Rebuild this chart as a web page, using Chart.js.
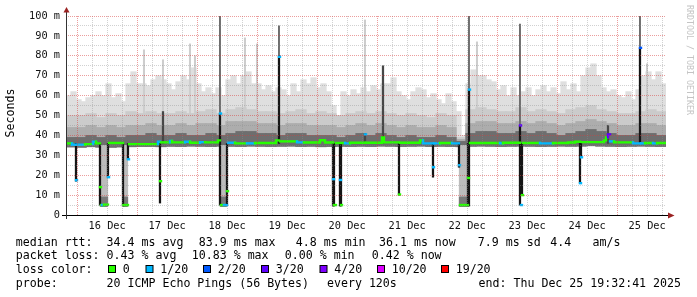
<!DOCTYPE html>
<html>
<head>
<meta charset="utf-8">
<title>SmokePing latency</title>
<script src="https://cdn.jsdelivr.net/npm/chart.js@4.4.1/dist/chart.umd.min.js"></script>
<style>
html,body{margin:0;padding:0;background:#fff;overflow:hidden;}
canvas{display:block;}
</style>
</head>
<body>
<canvas id="chart" width="697" height="297"></canvas>
<script>
// ================= DATA (times are hours since 16 Dec 00:00) =================
const startHour = -4.455;            // 15 Dec 19:32:41
const endHour = 235.545;             // 25 Dec 19:32:41
const dayLabels = ['16 Dec','17 Dec','18 Dec','19 Dec','20 Dec','21 Dec','22 Dec','23 Dec','24 Dec','25 Dec'];
const xGridHours = [0,6,12,18,24,30,36,42,48,54,60,66,72,78,84,90,96,102,108,114,120,126,132,138,144,150,156,162,168,174,180,186,192,198,204,210,216,222,228,234];
const yGridValues = [0,5,10,15,20,25,30,35,40,45,50,55,60,65,70,75,80,85,90,95,100];

// smoke envelope, 2-hour bins (ms)
const smokeMax = [60,62,58,57,59,60,62,60,66,59,
                  61,57,66,72,66,66,65,68,70,68,
                  66,63,67,70,68,74,66,62,64,61,
                  64,60,68,70,66,70,72,66,66,63,
                  65,62,64,63,60,66,62,68,66,69,
                  64,66,62,55,50,62,60,63,61,64,
                  62,65,63,66,66,69,62,60,58,62,
                  64,63,59,61,58,56,61,57,52,40,
                  66,73,70,70,68,67,63,65,60,64,
                  60,62,64,60,63,65,62,64,61,67,
                  63,66,62,70,74,76,70,64,62,63,
                  60,59,62,58,63,70,72,68,72,66];
// smoke density levels, 4-hour bins (ms)
const smokeHi  = [50,50,51,49,51,50,52,51,52,51,
                  51,52,51,52,53,51,53,54,53,52,
                  52,51,52,53,51,52,51,50,51,52,
                  51,52,51,50,51,50,49,51,50,39,
                  53,54,53,52,52,54,52,53,52,51,
                  53,54,55,53,52,51,51,52,53,52];
const smokeMid = [44,44,45,44,45,44,45,45,46,45,
                  45,46,45,46,46,45,47,47,47,46,
                  46,45,46,46,45,45,45,44,45,46,
                  45,46,45,44,45,44,44,45,44,38,
                  46,47,47,46,46,47,46,47,46,45,
                  46,47,48,47,46,45,45,46,46,45];
const smokeLow = [39,39,40,39,40,39,40,40,41,40,
                  40,41,40,40,41,40,41,42,42,41,
                  41,40,41,41,40,40,40,39,40,41,
                  40,41,40,39,40,39,39,40,39,37,
                  41,42,42,41,41,42,41,42,41,40,
                  41,42,43,42,41,40,40,41,41,40];
const smokeMin = [34.2,34.0,34.3,34.1,34.0,34.2,34.3,34.4,34.4,34.3,
                  34.5,34.4,34.6,34.5,34.4,34.6,34.5,34.4,34.6,34.5,
                  34.4,34.5,34.6,34.4,34.5,34.3,34.4,34.5,34.4,34.5,
                  34.4,34.6,34.5,34.4,34.5,34.6,34.4,34.5,34.4,34.3,
                  34.5,34.6,34.5,34.4,34.5,34.6,34.5,34.4,34.5,34.6,
                  34.5,34.6,34.8,34.6,34.5,34.4,34.5,34.6,34.5,34.4];

// median rtt: start hour of each step, value (ms), loss level index
const medT = [-4.46,-2.06,-0.46,-0.06,3.14,6.34,7.54,9.14,9.54,9.94,10.74,12.34,12.74,18.34,20.34,20.74,
              32.34,33.14,33.54,37.14,37.94,43.14,45.14,49.14,51.14,56.34,57.14,57.54,58.74,59.94,60.34,
              63.14,67.94,71.14,79.54,80.74,81.14,87.94,90.74,97.14,99.14,102.34,102.74,103.54,105.14,105.54,
              105.94,107.14,109.14,115.14,115.54,121.94,122.74,128.74,129.14,137.14,138.34,142.34,142.74,
              145.14,149.94,152.74,153.14,156.34,156.74,157.14,169.14,170.34,177.14,177.54,177.94,178.34,
              185.14,190.34,196.34,199.14,201.14,201.54,201.94,210.74,211.54,212.34,213.14,214.74,222.34,
              225.14,225.54,227.14,230.34,231.94];
const medV = [36.0,35.3,17.5,35.3,35.6,36.8,36.0,14.0,5.0,5.0,5.2,19.0,36.2,5.0,28.0,35.6,
              36.8,17.0,36.5,37.2,36.5,36.8,36.3,36.6,36.5,37.5,51.0,5.0,5.0,12.0,36.3,
              36.0,36.0,36.2,37.5,79.5,37.0,36.5,36.4,37.6,36.4,18.0,5.0,36.2,17.6,5.0,
              36.2,36.0,36.3,40.5,36.3,39.0,36.5,10.3,36.3,37.4,36.0,24.0,36.0,
              36.2,36.0,25.0,5.0,18.6,63.0,36.2,36.0,36.3,45.0,5.0,10.0,36.2,
              36.0,36.2,36.4,36.8,16.0,29.0,36.6,37.5,39.0,40.5,37.0,36.5,36.0,
              84.0,36.0,36.2,36.0,36.2];
const medLoss = [0,1,1,1,0,1,0,0,0,1,0,1,0,0,1,0,
                 1,0,0,1,0,1,0,1,0,0,1,0,1,0,1,
                 0,1,0,0,1,0,1,0,0,0,1,0,0,1,0,
                 0,1,0,1,0,0,0,0,0,0,1,1,1,
                 0,1,1,0,0,1,0,1,0,3,1,0,0,
                 1,0,0,0,1,1,0,0,0,3,1,0,1,
                 2,1,0,1,0];

// dense (black) smoke columns at outages / spikes
const blackT  = [-0.46,9.14,12.34,18.34,20.34,33.14,57.14,59.94,80.74,102.34,102.74,105.14,105.54,128.74,142.34,152.74,156.34,156.74,177.14,177.94,201.14,201.54,225.14];
const blackLo = [17,5,19,4.5,28,6,5,5,36,4.5,4.5,4.5,4.5,10,19,24,4.5,4.5,5,10,16,29,36];
const blackHi = [36,36,36,36,36,36,51,36,80,36,36,36,36,36,36,36,36,63,45,36,36,36,84];
// darker smoke columns above the median
const darkT  = [34.34,115.14,122.34,212.34];
const darkHi = [52,41,75,45];
// tall single-step ping spikes
const tallT  = [57.14,80.74,156.74,177.14,225.14];
const tallHi = [100,95,100,96,100];
// thin light spikes of the smoke top
const lightT  = [26.74,34.34,45.14,47.14,67.14,71.94,115.14,159.94,227.94];
const lightHi = [83,78,86,80,89,86,98,87,76];
// low-latency dips: steps where all pings were ~5 ms
const dipT = [9.54,9.94,10.34,10.74,11.14,11.54,11.94,
              18.74,19.14,19.54,19.94,
              57.54,57.94,58.34,58.74,59.14,59.54,
              153.14,153.54,153.94,154.34,154.74,155.14,155.54,155.94];
const dipFloor = 4.3, dipTop = 35, dipCore = 9;

// legend statistics
const rttStatValues = ['34.4','83.9','4.8','36.1','7.9'];
const rttStatNames  = ['avg','max','min','now','sd'];
const amPerS = '4.4';
const lossStatValues = ['0.43','10.83','0.00','0.42'];
const lossStatNames  = ['avg','max','min','now'];
const lossLevels = ['0','1/20','2/20','3/20','4/20','10/20','19/20'];
const lossColors = ['#26ff00','#00b8ff','#0059ff','#5e00ff','#7e00ff','#dd00ff','#ff0000'];
const probeText = ['20 ICMP Echo Pings (56 Bytes)', 'every 120s'];
const endText = 'end: Thu Dec 25 19:32:41 2025';

// ================= CHART =================
const MONO = '"DejaVu Sans Mono", "Liberation Mono", monospace';
Chart.defaults.font.family = MONO;

const fineT = smokeMax.map((v, i) => startHour + 2 * (i + 0.5));
const coarseT = smokeHi.map((v, i) => startHour + 4 * (i + 0.5));

function barSet(ts, lo, hi, color, thick, order) {
  return {
    type: 'bar',
    data: ts.map((t, i) => ({ x: t, y: [lo(i), hi(i)] })),
    backgroundColor: color,
    borderWidth: 0,
    barThickness: thick,
    grouped: false,
    order: order
  };
}

// median line: each step drawn as a horizontal run; large jumps are not stroked
const medPts = [], segCol = [];
for (let i = 0; i < medT.length; i++) {
  const tEnd = i + 1 < medT.length ? medT[i + 1] : endHour;
  medPts.push({ x: medT[i], y: medV[i] }, { x: tEnd, y: medV[i] });
  segCol.push(lossColors[medLoss[i]]);
  if (i + 1 < medT.length) {
    const jump = Math.abs(medV[i + 1] - medV[i]);
    segCol.push(jump < 3 ? lossColors[medLoss[i + 1]] : 'rgba(0,0,0,0)');
  }
}

const datasets = [
  barSet(fineT, i => smokeMin[Math.floor(i / 2)], i => smokeMax[i], '#dfdfdf', 5.6, 20),
  barSet(lightT, i => 40, i => lightHi[i], '#cdcdcd', 1.4, 19),
  barSet(coarseT, i => smokeMin[i], i => smokeHi[i], '#cbcbcb', 10.6, 18),
  barSet(coarseT, i => smokeMin[i], i => smokeMid[i], '#adadad', 10.6, 17),
  barSet(coarseT, i => smokeMin[i], i => smokeLow[i], '#6e6e6e', 10.6, 16),
  barSet(tallT, i => 36, i => tallHi[i], '#6e6e6e', 1.3, 15),
  barSet(dipT, i => dipFloor, i => dipTop, '#bcbcbc', 1.6, 14),
  barSet(dipT, i => dipFloor, i => dipCore, '#7a7a7a', 1.6, 13),
  barSet(darkT, i => 36, i => darkHi[i], '#474747', 1.6, 12),
  barSet(blackT, i => blackLo[i], i => blackHi[i], '#151515', 1.6, 11),
  {
    type: 'line',
    data: medPts,
    borderColor: lossColors[0],
    borderWidth: 2.4,
    borderCapStyle: 'square',
    pointRadius: 0,
    tension: 0,
    fill: false,
    order: 0,
    segment: { borderColor: ctx => segCol[ctx.p0DataIndex] }
  }
];

const majorGrid = 'rgba(215,60,60,0.5)';
const minorGrid = 'rgba(140,140,140,0.4)';

const decor = {
  id: 'decor',
  beforeDraw(chart) {
    const c = chart.ctx;
    c.save();
    c.fillStyle = '#ffffff';
    c.fillRect(0, 0, chart.width, chart.height);
    c.restore();
  },
  afterDraw(chart) {
    const c = chart.ctx;
    const a = chart.chartArea;
    c.save();
    // axes
    c.lineWidth = 1;
    c.strokeStyle = '#000';
    c.beginPath();
    c.moveTo(62, a.bottom + 0.5); c.lineTo(670, a.bottom + 0.5);
    c.stroke();
    c.strokeStyle = '#333';
    c.beginPath();
    c.moveTo(a.left + 0.5, 219); c.lineTo(a.left + 0.5, 11);
    c.stroke();
    // arrows
    c.fillStyle = '#9a2222';
    c.beginPath();
    c.moveTo(668, a.bottom - 2.5); c.lineTo(674.5, a.bottom + 0.5); c.lineTo(668, a.bottom + 3.5);
    c.closePath(); c.fill();
    c.beginPath();
    c.moveTo(a.left - 2.5, 12.5); c.lineTo(a.left + 0.5, 7); c.lineTo(a.left + 3.5, 12.5);
    c.closePath(); c.fill();

    // y-axis title
    c.fillStyle = '#000';
    c.font = '11.6px ' + MONO;
    c.save();
    c.translate(11, 113);
    c.rotate(-Math.PI / 2);
    c.textAlign = 'center';
    c.textBaseline = 'middle';
    c.fillText('Seconds', 0, 0);
    c.restore();

    // watermark
    c.save();
    c.fillStyle = '#c4c4c4';
    c.font = '8.3px ' + MONO;
    c.translate(689, 5);
    c.rotate(Math.PI / 2);
    c.textAlign = 'left';
    c.textBaseline = 'middle';
    c.fillText('RRDTOOL / TOBI OETIKER', 0, 0);
    c.restore();

    // legend
    c.font = '11.6px ' + MONO;
    c.textBaseline = 'alphabetic';
    c.textAlign = 'left';
    c.fillStyle = '#000';
    const rows = [245.5, 259.2, 272.9, 286.6];
    const x0 = 15.8;
    c.fillText('median rtt:', x0, rows[0]);
    const rttX = [106.6, 198.8, 295.8, 379, 477.8];
    rttStatValues.forEach((v, i) => c.fillText(v + ' ms ' + rttStatNames[i], rttX[i], rows[0]));
    c.fillText(amPerS, 550.3, rows[0]);
    c.fillText('am/s', 592.5, rows[0]);

    c.fillText('packet loss:', x0, rows[1]);
    const lossX = [106.6, 191.8, 284.8, 371.8];
    lossStatValues.forEach((v, i) => c.fillText(v + ' % ' + lossStatNames[i], lossX[i], rows[1]));

    c.fillText('loss color:', x0, rows[2]);
    const boxX = [108.5, 146, 203.5, 261.5, 320, 377.5, 441.5];
    lossLevels.forEach((lab, i) => {
      c.fillStyle = lossColors[i];
      c.fillRect(boxX[i], 265.5, 7, 7);
      c.strokeStyle = '#000';
      c.lineWidth = 1;
      c.strokeRect(boxX[i], 265.5, 7, 7);
      c.fillStyle = '#000';
      c.fillText(lab, boxX[i] + 14.2, rows[2]);
    });

    c.fillText('probe:', x0, rows[3]);
    c.fillText(probeText[0], 106.6, rows[3]);
    c.fillText(probeText[1], 327, rows[3]);
    c.textAlign = 'right';
    c.fillText(endText, 681, rows[3]);
    c.restore();
  }
};

new Chart(document.getElementById('chart'), {
  type: 'bar',
  data: { datasets: datasets },
  options: {
    responsive: false,
    maintainAspectRatio: false,
    devicePixelRatio: 1,
    animation: false,
    events: [],
    layout: { padding: { left: 0, right: 31, top: 16, bottom: 0 } },
    plugins: { legend: { display: false }, tooltip: { enabled: false }, title: { display: false } },
    scales: {
      x: {
        type: 'linear',
        min: startHour,
        max: endHour,
        offset: false,
        afterFit: s => { s.height = 82; },
        afterBuildTicks: s => { s.ticks = xGridHours.map(v => ({ value: v })); },
        grid: {
          offset: false,
          drawTicks: false,
          lineWidth: 1,
          z: 1,
          color: ctx => (ctx.tick && ctx.tick.value % 24 === 0) ? majorGrid : minorGrid
        },
        border: { display: false, dash: [1, 1] },
        ticks: {
          autoSkip: false,
          maxRotation: 0,
          padding: 5,
          color: '#111',
          font: { family: MONO, size: 10.3 },
          callback: v => (((v % 24) + 24) % 24 === 12) ? dayLabels[(v - 12) / 24] : ''
        }
      },
      y: {
        type: 'linear',
        min: 0,
        max: 100,
        afterFit: s => { s.width = 66; },
        afterBuildTicks: s => { s.ticks = yGridValues.map(v => ({ value: v })); },
        grid: {
          drawTicks: false,
          lineWidth: 1,
          z: 1,
          color: ctx => (ctx.tick && ctx.tick.value % 10 === 0) ? majorGrid : minorGrid
        },
        border: { display: false, dash: [1, 1] },
        ticks: {
          autoSkip: false,
          padding: 6,
          color: '#111',
          font: { family: MONO, size: 10.3 },
          callback: v => (v % 10 === 0) ? (v === 0 ? '0' : v + ' m') : ''
        }
      }
    }
  },
  plugins: [decor]
});
</script>
</body>
</html>
